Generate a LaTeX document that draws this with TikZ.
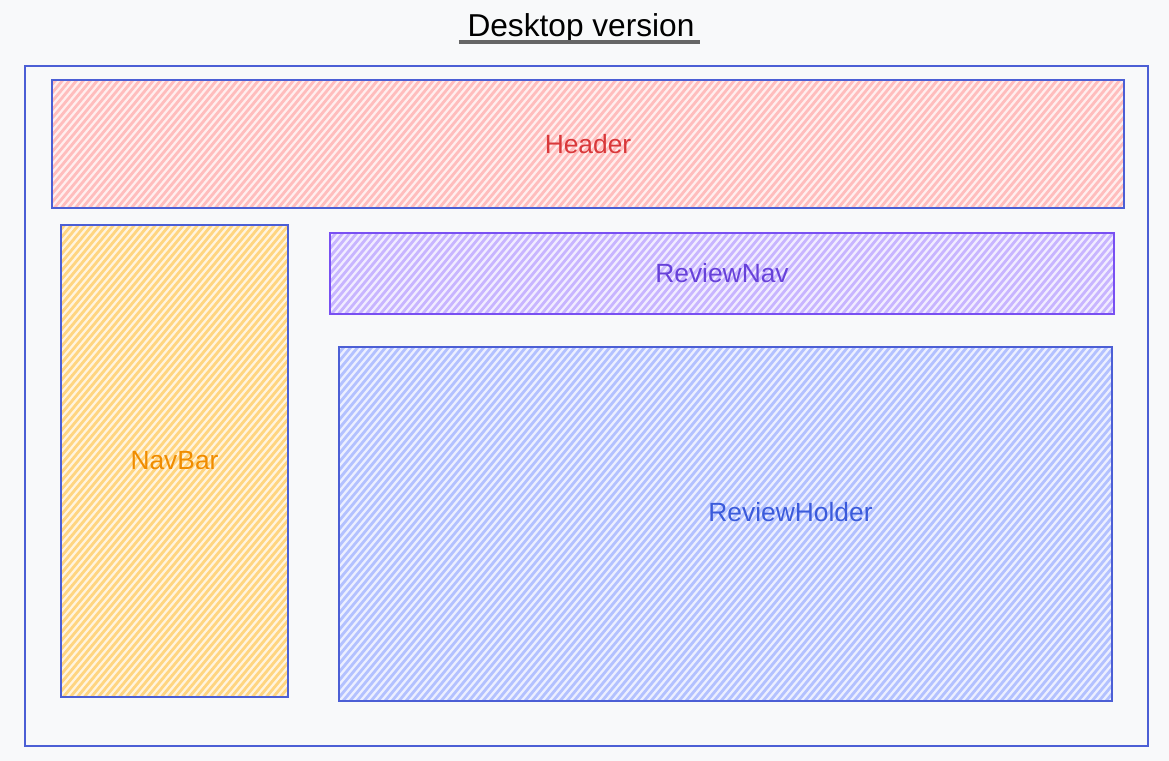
\documentclass[tikz,border=0pt]{standalone}
\usepackage{fontspec}
\setmainfont{Liberation Sans}
\usepackage{tikz}
\definecolor{pagebg}{HTML}{F8F9FA}
\definecolor{edgeblue}{HTML}{4C5FD5}
\definecolor{edgepurple}{HTML}{7950F2}
\definecolor{hatchred}{HTML}{FFBDBD}
\definecolor{hatchyellow}{HTML}{FFD580}
\definecolor{hatchpurple}{HTML}{C8B5FF}
\definecolor{hatchblue}{HTML}{B3C1FF}
\definecolor{textred}{HTML}{D9383A}
\definecolor{textorange}{HTML}{F08C00}
\definecolor{textpurple}{HTML}{6741D9}
\definecolor{textblue}{HTML}{3B5BDB}
\tikzset{hatchbox/.style={draw=edgeblue,line width=0.5pt,inner sep=0pt,
           fill=#1!25,font=\fontsize{7.5}{9}\selectfont,
           path picture={
             \foreach \k in {0,7,...,1600}
               \draw[#1,line width=0.8pt] (\k-1400,600) -- ++(1000,-1200);
           }},
         hatchbox/.default=hatchblue,
         framebox/.style={draw=edgeblue,line width=0.6pt,inner sep=0pt}}

\begin{document}
\begin{tikzpicture}[x=0.01cm,y=-0.01cm]
\useasboundingbox[fill=pagebg] (0,0) rectangle (1169,761);

\node [font=\fontsize{9}{11}\selectfont,inner sep=0pt,anchor=base] (title) at (581,37) {Desktop version};
\draw [line width=1pt,black!60] ([xshift=-0.08cm,yshift=-0.05cm]title.base west) -- ([xshift=0.05cm,yshift=-0.05cm]title.base east);

\node [framebox,minimum width=11.23cm,minimum height=6.80cm] (page) at (586.5,406) {};

\node [hatchbox=hatchred,text=textred,minimum width=10.72cm,minimum height=1.28cm] (header) at (588,144) {Header};
\node [hatchbox=hatchyellow,text=textorange,minimum width=2.27cm,minimum height=4.72cm] (navbar) at (174.5,461) {NavBar};
\node [hatchbox=hatchpurple,draw=edgepurple,text=textpurple,minimum width=7.84cm,minimum height=0.81cm] (reviewnav) at (722,273.5) {ReviewNav};
\node [hatchbox,minimum width=7.73cm,minimum height=3.54cm,
       label={[text=textblue,font=\fontsize{7.5}{9}\selectfont,xshift=0.65cm,yshift=0.12cm]center:ReviewHolder}] (reviewholder) at (725.5,524) {};
\end{tikzpicture}
\end{document}
